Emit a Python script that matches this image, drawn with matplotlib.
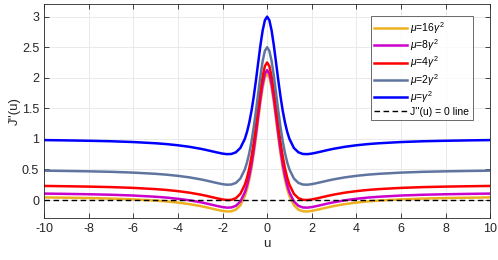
import numpy as np
import matplotlib.pyplot as plt
from matplotlib.ticker import MultipleLocator, FormatStrFormatter

plt.rcParams["font.family"] = ["Liberation Sans", "DejaVu Sans"]
plt.rcParams["mathtext.fontset"] = "custom"
plt.rcParams["mathtext.it"] = "Liberation Sans:italic"
plt.rcParams["mathtext.rm"] = "Liberation Sans"
plt.rcParams["axes.unicode_minus"] = False

# half of the common curve shape (u >= 0); curves are symmetric in u
u_half = [0.0, 0.1, 0.2, 0.3, 0.4, 0.5, 0.6, 0.7, 0.8, 0.9, 1.0, 1.2, 1.4, 1.6,
          1.8, 2.0, 2.25, 2.5, 2.75, 3.0, 3.5, 4.0, 4.5, 5.0, 6.0, 7.0, 8.0, 9.0, 10.0]
shape_half = [2.0, 1.941, 1.775, 1.532, 1.249, 0.96, 0.692, 0.459, 0.268, 0.116, 0.0,
              -0.148, -0.219, -0.246, -0.249, -0.24, -0.221, -0.2, -0.179, -0.16,
              -0.128, -0.104, -0.085, -0.071, -0.051, -0.038, -0.030, -0.024, -0.019]

# far-field level of each curve (gamma^2 / mu)
levels = [0.0625, 0.125, 0.25, 0.5, 1.0]
labels = [r"$\mu$=16$\gamma^2$", r"$\mu$=8$\gamma^2$", r"$\mu$=4$\gamma^2$",
          r"$\mu$=2$\gamma^2$", r"$\mu$=$\gamma^2$"]
colors = ["#EDB120", "#CC00CC", "#FF0000", "#5F75A0", "#0000FF"]

u = np.concatenate([-np.array(u_half[:0:-1]), u_half])
shape = np.concatenate([shape_half[:0:-1], shape_half])

fig = plt.figure(figsize=(4.98, 2.60), dpi=100)
ax = fig.add_axes([0.0884, 0.160, 0.896, 0.823])

for lev, lab, col in zip(levels, labels, colors):
    ax.plot(u, shape + lev, color=col, lw=1.8, label=lab)
ax.axhline(0, color="black", ls=(0, (4, 2.5)), lw=1.0, label="J''(u) = 0 line")

ax.set_xlim(-10, 10)
ax.set_ylim(-0.3, 3.2)
ax.xaxis.set_major_locator(MultipleLocator(2))
ax.yaxis.set_major_locator(MultipleLocator(0.5))
ax.yaxis.set_major_formatter(FormatStrFormatter("%g"))
ax.tick_params(direction="in", top=True, right=True, labelsize=9,
               colors="#262626", length=3.5, width=0.6)
for s in ax.spines.values():
    s.set_color("#262626")
    s.set_linewidth(0.6)
ax.grid(True, color="#E6E6E6", lw=0.6)
ax.set_axisbelow(True)

ax.set_xlabel("u", fontsize=9.5, color="#262626", labelpad=2)
ax.set_ylabel("J''(u)", fontsize=9.5, color="#262626", labelpad=1)

leg = ax.legend(loc="upper right", bbox_to_anchor=(0.965, 0.955), fontsize=7.5,
                frameon=True, fancybox=False, handlelength=3.1, borderpad=0.35,
                labelspacing=0.15, handletextpad=0.3, borderaxespad=0.2)
leg.get_frame().set_edgecolor("#262626")
leg.get_frame().set_linewidth(0.6)

fig.savefig("out.png", dpi=100)
